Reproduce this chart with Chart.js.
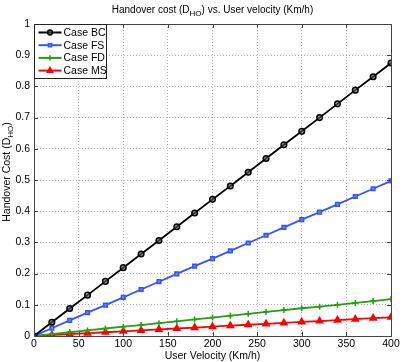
<!DOCTYPE html>
<html>
<head>
<meta charset="utf-8">
<script src="https://cdn.jsdelivr.net/npm/chart.js@4/dist/chart.umd.min.js"></script>
<style>
  html,body{margin:0;padding:0;background:#fff;}
  #wrap{position:relative;width:415px;height:362px;font-family:"Liberation Sans",Arial,sans-serif;}
  canvas{position:absolute;left:0;top:0;}
  #title{position:absolute;left:34px;width:357px;top:4px;text-align:center;font-size:10px;color:#000;white-space:nowrap;}
  #ylab{position:absolute;left:-94px;top:166px;width:200px;text-align:center;font-size:10.5px;color:#000;transform:rotate(-90deg);white-space:nowrap;}
  sub{font-size:8px;vertical-align:-3px;line-height:0;}
</style>
</head>
<body>
<div id="wrap">
<canvas id="c" width="415" height="362"></canvas>
<div id="title">Handover cost (D<sub>HO</sub>) vs. User velocity (Km/h)</div>
<div id="ylab">Handover Cost (D<sub>HO</sub>)</div>
</div>
<script>
const velocity = [0,20,40,60,80,100,120,140,160,180,200,220,240,260,280,300,320,340,360,380,400];
const caseBC = [0,0.044,0.088,0.131,0.175,0.219,0.263,0.306,0.350,0.394,0.438,0.481,0.525,0.569,0.613,0.656,0.700,0.744,0.788,0.831,0.875];
const caseFS = [0,0.025,0.050,0.075,0.099,0.124,0.149,0.174,0.199,0.224,0.248,0.273,0.298,0.323,0.348,0.373,0.397,0.422,0.447,0.472,0.497];
const caseFD = [0,0.006,0.012,0.018,0.024,0.030,0.035,0.041,0.047,0.053,0.059,0.065,0.071,0.077,0.083,0.089,0.094,0.100,0.106,0.112,0.118];
const caseMS = [0,0.003,0.006,0.009,0.012,0.015,0.018,0.021,0.024,0.027,0.030,0.033,0.036,0.039,0.042,0.045,0.048,0.051,0.054,0.057,0.060];
const seriesNames = ["Case BC","Case FS","Case FD","Case MS"];
const xTicks = [0,50,100,150,200,250,300,350,400];
const yTicks = [0,0.1,0.2,0.3,0.4,0.5,0.6,0.7,0.8,0.9,1];

const pts = arr => arr.map((v,i)=>({x:velocity[i], y:v}));

const styles = [
  {color:'#000000', pointStyle:'circle', radius:2.8, bg:'rgba(90,90,90,0.6)'},
  {color:'#3355ff', pointStyle:'rect', radius:2.6, bg:'#6f86ff'},
  {color:'#22a010', pointStyle:'cross', radius:3, bg:'#22a010'},
  {color:'#ff0000', pointStyle:'triangle', radius:3.6, bg:'#ff0000'}
];
const allData = [caseBC, caseFS, caseFD, caseMS];

const datasets = allData.map((d,i)=>({
  label: seriesNames[i],
  data: pts(d),
  borderColor: styles[i].color,
  backgroundColor: styles[i].bg,
  borderWidth: 1.8,
  pointStyle: styles[i].pointStyle,
  pointRadius: styles[i].radius,
  pointBorderWidth: 1.5,
  pointBackgroundColor: styles[i].bg,
  pointBorderColor: styles[i].color,
  tension: 0
}));

const framePlugin = {
  id:'frame',
  afterDraw(chart){
    const {ctx, chartArea:a, scales:{x,y}} = chart;
    ctx.save();
    ctx.strokeStyle = '#444';
    ctx.lineWidth = 1;
    ctx.setLineDash([]);
    ctx.beginPath();
    xTicks.forEach(t=>{
      const px = Math.round(x.getPixelForValue(t))+0.5;
      ctx.moveTo(px,a.bottom); ctx.lineTo(px,a.bottom-4);
      ctx.moveTo(px,a.top); ctx.lineTo(px,a.top+4);
    });
    yTicks.forEach(t=>{
      const py = Math.round(y.getPixelForValue(t))+0.5;
      ctx.moveTo(a.left,py); ctx.lineTo(a.left+4,py);
      ctx.moveTo(a.right,py); ctx.lineTo(a.right-4,py);
    });
    ctx.stroke();
    ctx.strokeRect(Math.round(a.left)+0.5, Math.round(a.top)+0.5, Math.round(a.right-a.left), Math.round(a.bottom-a.top));
    // legend box
    const lx = Math.round(a.left)+0.5, ly = Math.round(a.top)+0.5, lw = 72, lh = 54;
    ctx.fillStyle = '#fff';
    ctx.fillRect(lx, ly, lw, lh);
    ctx.strokeStyle = '#222';
    ctx.strokeRect(lx, ly, lw, lh);
    ctx.font = '10.5px "Liberation Sans", Arial, sans-serif';
    ctx.textBaseline = 'middle';
    chart.data.datasets.forEach((ds,i)=>{
      const yy = ly + 8 + i*12.7;
      ctx.strokeStyle = ds.borderColor;
      ctx.lineWidth = 2;
      ctx.beginPath(); ctx.moveTo(lx+4, yy); ctx.lineTo(lx+27, yy); ctx.stroke();
      ctx.fillStyle = ds.pointBackgroundColor;
      ctx.strokeStyle = ds.pointBorderColor;
      ctx.lineWidth = 1.5;
      Chart.helpers.drawPoint(ctx, {pointStyle: ds.pointStyle, radius: ds.pointRadius*0.85, borderWidth: 1.5, rotation:0}, lx+15.5, yy);
      ctx.fillStyle = '#000';
      ctx.fillText(ds.label, lx+29, yy+0.5);
    });
    ctx.restore();
  }
};

const gridOpts = {
  display:true, drawTicks:false, color:'#b4b4b4', lineWidth:1,
  drawOnChartArea:true
};

new Chart(document.getElementById('c'), {
  type:'line',
  data:{datasets},
  options:{
    responsive:false,
    animation:false,
    devicePixelRatio:1,
    layout:{padding:{left:0, top:24, right:24, bottom:0}},
    plugins:{legend:{display:false}, title:{display:false}, tooltip:{enabled:false}},
    scales:{
      x:{
        type:'linear', min:0, max:400,
        afterBuildTicks: s=>{ s.ticks = xTicks.map(v=>({value:v})); },
        afterFit: s=>{ s.height = 26; },
        ticks:{color:'#000', font:{size:10.5, family:'"Liberation Sans", Arial, sans-serif'}, padding:2, maxRotation:0},
        grid:gridOpts,
        border:{display:false, dash:[1,2]},
        title:{display:true, text:'User Velocity (Km/h)', color:'#000', font:{size:10.5, family:'"Liberation Sans", Arial, sans-serif'}, padding:{top:0,bottom:0}}
      },
      y:{
        type:'linear', min:0, max:1,
        afterBuildTicks: s=>{ s.ticks = yTicks.map(v=>({value:v})); },
        afterFit: s=>{ s.width = 34; },
        ticks:{color:'#000', font:{size:10.5, family:'"Liberation Sans", Arial, sans-serif'}, padding:4, callback:v=>String(+v.toFixed(1))},
        grid:gridOpts,
        border:{display:false, dash:[1,2]}
      }
    }
  },
  plugins:[framePlugin]
});
</script>
</body>
</html>
